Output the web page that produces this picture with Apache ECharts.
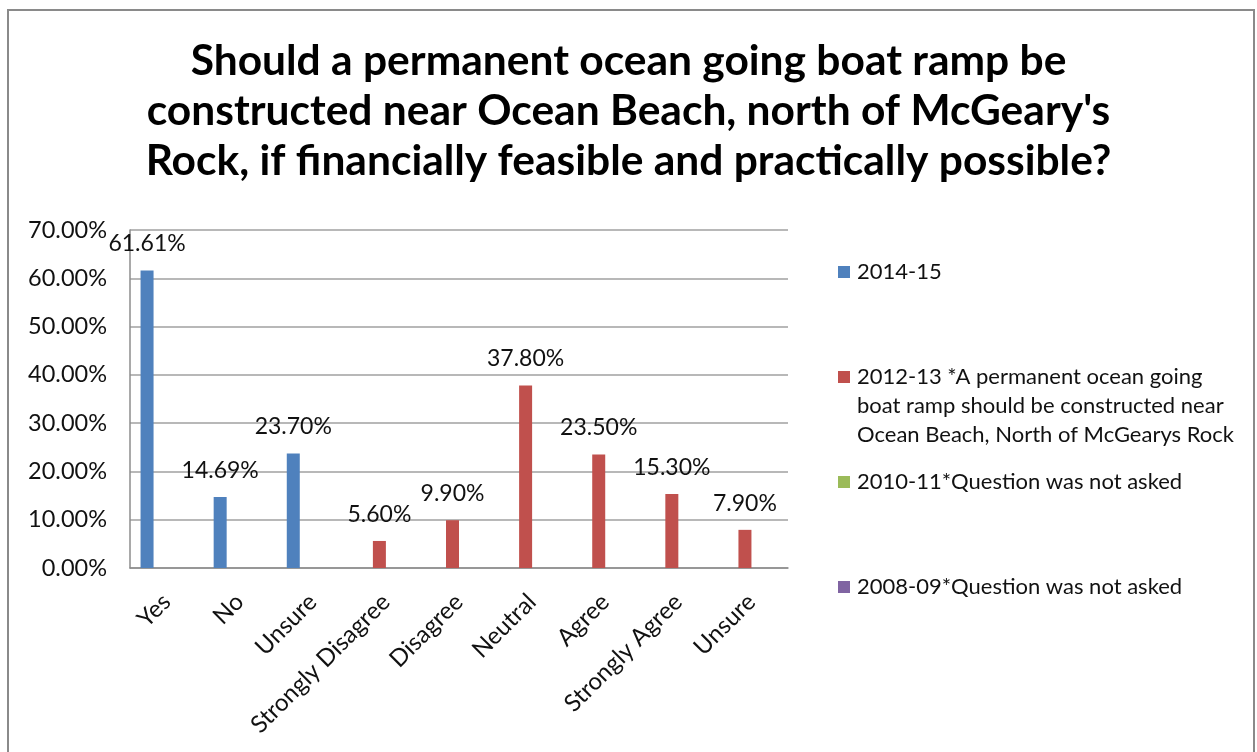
<!DOCTYPE html>
<html>
<head>
<meta charset="utf-8">
<script src="https://cdn.jsdelivr.net/npm/echarts@6/dist/echarts.min.js"></script>
<style>
  html, body { margin: 0; padding: 0; background: #ffffff; }
  #chart { width: 1257px; height: 752px; }
</style>
</head>
<body>
<div id="chart"></div>
<script>
// Survey responses (percent of respondents)
const categories = ['Yes', 'No', 'Unsure', 'Strongly Disagree', 'Disagree', 'Neutral', 'Agree', 'Strongly Agree', 'Unsure'];
const seriesNames = [
  '2014-15',
  '2012-13 *A permanent ocean going boat ramp should be constructed near Ocean Beach, North of McGearys Rock',
  '2010-11*Question was not asked',
  '2008-09*Question was not asked'
];
const values2014 = [61.61, 14.69, 23.70, null, null, null, null, null, null];
const values2012 = [null, null, null, 5.60, 9.90, 37.80, 23.50, 15.30, 7.90];
const values2010 = [null, null, null, null, null, null, null, null, null];
const values2008 = [null, null, null, null, null, null, null, null, null];
const yTicks = { min: 0, max: 70, interval: 10 };

const colors = ['#4F81BD', '#C0504D', '#9BBB59', '#8064A2'];
const FONT = 'Lato, "Open Sans", sans-serif';
const pct = v => Number(v).toFixed(2) + '%';

// legend wrapping for the long 2012-13 entry; two leading blank lines keep
// the colour swatch level with the first line of text
const legendLines = {
  [seriesNames[1]]: '\n\n2012-13 *A permanent ocean going\nboat ramp should be constructed near\nOcean Beach, North of McGearys Rock'
};

function barSeries(i, data) {
  return {
    name: seriesNames[i],
    type: 'bar',
    data: data,
    barWidth: 13,
    barGap: '0%',
    itemStyle: { color: colors[i] },
    label: {
      show: true,
      position: 'top',
      distance: 15,
      formatter: p => (p.value == null ? '' : pct(p.value)),
      fontFamily: FONT,
      fontSize: 23,
      color: '#111'
    }
  };
}

const LEGEND_LINE = 29;
function legendFor(i, centerY, lines) {
  const n = lines || 1;
  return {
    data: [seriesNames[i]],
    left: 838,
    top: centerY - (n * LEGEND_LINE) / 2,
    padding: 0,
    itemWidth: 12,
    itemHeight: 12,
    itemGap: 0,
    icon: 'rect',
    selectedMode: false,
    formatter: name => legendLines[name] || name,
    textStyle: { fontFamily: FONT, fontSize: 22, color: '#111', lineHeight: LEGEND_LINE, padding: [0, 0, 0, 2] }
  };
}

const chart = echarts.init(document.getElementById('chart'), null, { renderer: 'canvas' });
chart.setOption({
  backgroundColor: '#ffffff',
  animation: false,
  title: {
    text: 'Should a permanent ocean going boat ramp be\nconstructed near Ocean Beach, north of McGeary\'s\nRock, if financially feasible and practically possible?',
    left: 'center',
    top: 31,
    textStyle: { fontFamily: FONT, fontSize: 42.5, fontWeight: 'bold', color: '#000', lineHeight: 50 }
  },
  graphic: [{
    type: 'rect',
    shape: { x: 8, y: 10, width: 1246, height: 760 },
    style: { fill: 'none', stroke: '#8a8a8a', lineWidth: 2 },
    silent: true
  }],
  legend: [
    legendFor(0, 272),
    legendFor(1, 377, 5),
    legendFor(2, 482),
    legendFor(3, 587)
  ],
  grid: { left: 130, right: 469, top: 230, bottom: 184, containLabel: false },
  xAxis: {
    type: 'category',
    data: categories,
    axisTick: { show: false },
    axisLine: { lineStyle: { color: '#8c8c8c', width: 1.5 } },
    axisLabel: {
      interval: 0,
      rotate: 45,
      margin: 30,
      fontFamily: FONT,
      fontSize: 24,
      color: '#111'
    }
  },
  yAxis: {
    type: 'value',
    min: yTicks.min,
    max: yTicks.max,
    interval: yTicks.interval,
    axisLine: { show: true, lineStyle: { color: '#8c8c8c', width: 1.5 } },
    axisTick: { show: false },
    splitLine: { lineStyle: { color: '#a0a0a0', width: 1.5 } },
    axisLabel: {
      formatter: v => pct(v),
      margin: 23,
      fontFamily: FONT,
      fontSize: 23.5,
      color: '#111'
    }
  },
  series: [
    barSeries(0, values2014),
    barSeries(1, values2012),
    barSeries(2, values2010),
    barSeries(3, values2008)
  ]
});
</script>
</body>
</html>
